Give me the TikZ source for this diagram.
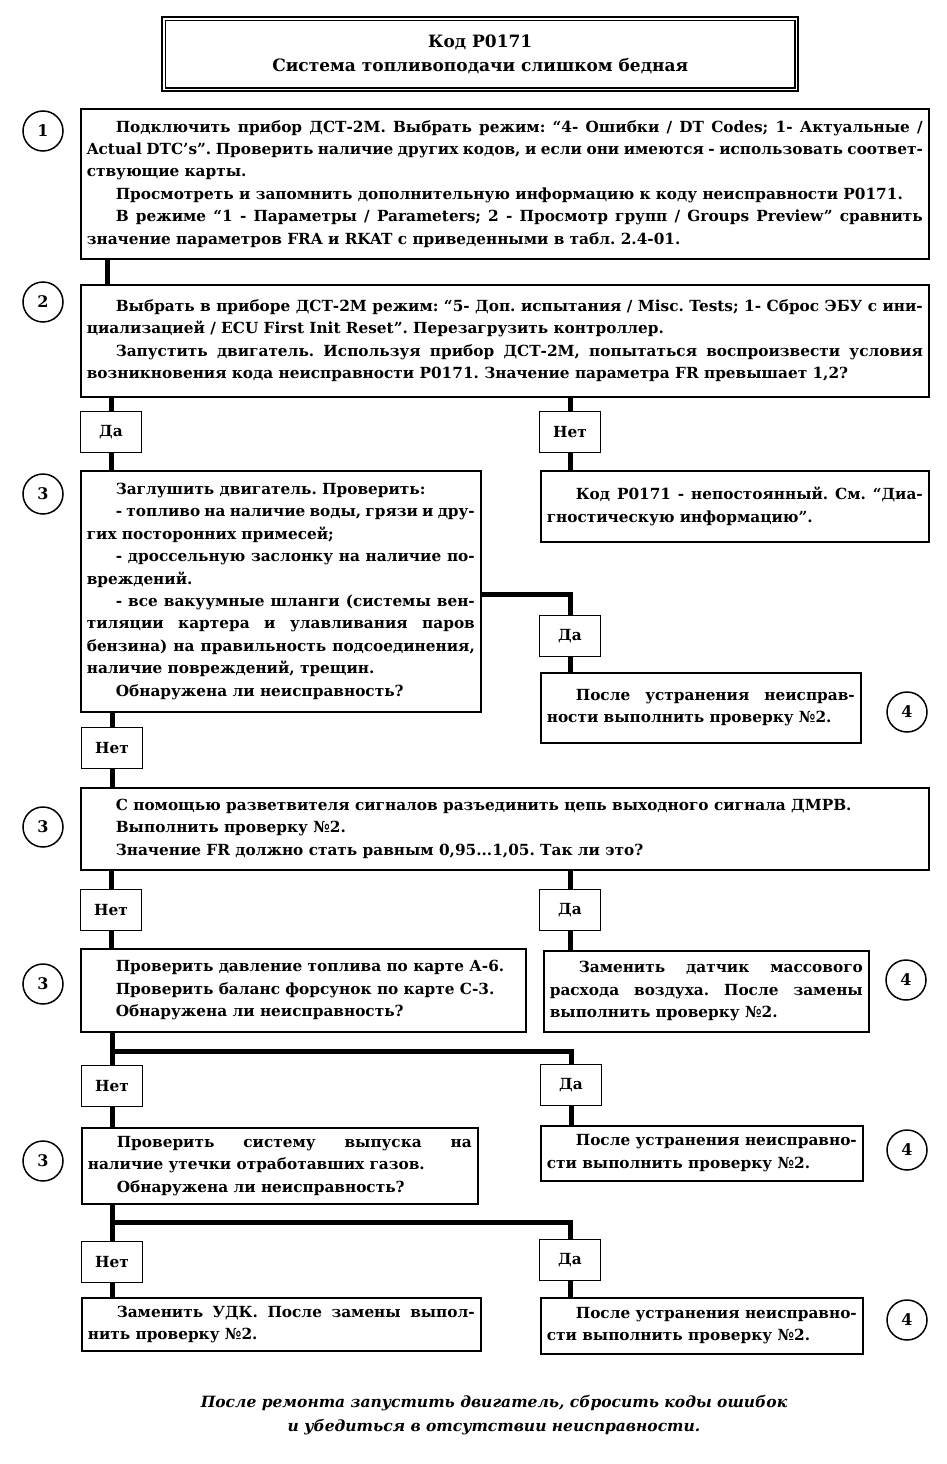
\documentclass[tikz,border=0pt]{standalone}
\usepackage{fontspec}
\setmainfont{DejaVu Serif}
\frenchspacing
\newcommand\bodyfont{\bfseries\fontsize{15.3}{22.4}\selectfont\frenchspacing\hyphenpenalty=10000\exhyphenpenalty=10000\emergencystretch=20pt}
\newcommand\myind{\hspace*{29pt}}
\tikzset{
  box/.style={draw, line width=1.6pt, anchor=north west, inner xsep=6pt, inner ysep=0pt, align=justify, font=\bodyfont},
  lbl/.style={draw, line width=1.6pt, minimum width=61pt, minimum height=41pt, inner sep=0pt, font=\bodyfont},
  num/.style={draw, circle, line width=1.5pt, minimum size=40pt, inner sep=0pt, font=\bfseries\fontsize{16}{18}\selectfont},
  conn/.style={line width=5pt, line join=miter},
}
\begin{document}
\begin{tikzpicture}[x=1pt, y=-1pt]
\useasboundingbox[fill=white] (0,0) rectangle (947,1464);

% title
\node[draw, line width=2.4pt, minimum width=636pt, minimum height=74pt, anchor=north west, inner sep=0pt] (t) at (161,16) {};
\draw[line width=1.2pt] ([shift={(4.5pt,-4.5pt)}]t.north west) rectangle ([shift={(-4.5pt,4.5pt)}]t.south east);
\node[font=\bfseries\fontsize{17}{24}\selectfont, align=center] (tt) at (t.center) {Код P0171\\Система топливоподачи слишком бедная};

% boxes
\node[box, text width=836pt, minimum height=150pt] (b1) at (80,108) {\myind Подключить прибор ДСТ-2М. Выбрать режим: “4- Ошибки / DT Codes; 1- Актуальные /\linebreak Actual DTC's”. Проверить наличие других кодов, и если они имеются - использовать соответ-\linebreak ствующие карты.\par
\myind Просмотреть и запомнить дополнительную информацию к коду неисправности P0171.\par
\myind В режиме “1 - Параметры / Parameters; 2 - Просмотр групп / Groups Preview” сравнить\linebreak значение параметров FRA и RKAT с приведенными в табл. 2.4-01.};

\node[box, text width=836pt, minimum height=112pt] (b2) at (80,284) {\myind Выбрать в приборе ДСТ-2М режим: “5- Доп. испытания / Misc. Tests; 1- Сброс ЭБУ с ини-\linebreak циализацией / ECU First Init Reset”. Перезагрузить контроллер.\par
\myind Запустить двигатель. Используя прибор ДСТ-2М, попытаться воспроизвести условия\linebreak возникновения кода неисправности P0171. Значение параметра FR превышает 1,2?};

\node[box, text width=388pt, minimum height=241pt] (b3a) at (80,470) {\myind Заглушить двигатель. Проверить:\par
\myind - топливо на наличие воды, грязи и дру-\linebreak гих посторонних примесей;\par
\myind - дроссельную заслонку на наличие по-\linebreak вреждений.\par
\myind - все вакуумные шланги (системы вен-\linebreak тиляции картера и улавливания паров\linebreak бензина) на правильность подсоединения,\linebreak наличие повреждений, трещин.\par
\myind Обнаружена ли неисправность?};

\node[box, text width=376pt, minimum height=71pt] (bk) at (540,470) {\myind Код P0171 - непостоянный. См. “Диа-\linebreak гностическую информацию”.};

\node[box, text width=308pt, minimum height=70pt] (b4x) at (540,672) {\myind После устранения неисправ-\linebreak ности выполнить проверку №2.};

\node[box, text width=836pt, minimum height=82pt] (b3b) at (80,787) {\myind С помощью разветвителя сигналов разъединить цепь выходного сигнала ДМРВ.\par
\myind Выполнить проверку №2.\par
\myind Значение FR должно стать равным 0,95...1,05. Так ли это?};

\node[box, text width=433pt, minimum height=83pt] (b3c) at (80,948) {\myind Проверить давление топлива по карте А-6.\par
\myind Проверить баланс форсунок по карте С-3.\par
\myind Обнаружена ли неисправность?};

\node[box, text width=313pt, minimum height=81pt] (b4a) at (543,950) {\myind Заменить датчик массового\linebreak расхода воздуха. После замены\linebreak выполнить проверку №2.};

\node[box, text width=384pt, minimum height=76pt] (b3d) at (81,1127) {\myind Проверить систему выпуска на\linebreak наличие утечки отработавших газов.\par
\myind Обнаружена ли неисправность?};

\node[box, text width=310pt, minimum height=55pt] (b4b) at (540,1125) {\myind После устранения неисправно-\linebreak сти выполнить проверку №2.};

\node[box, text width=387pt, minimum height=53pt] (b5l) at (81,1297) {\myind Заменить УДК. После замены выпол-\linebreak нить проверку №2.};

\node[box, text width=310pt, minimum height=56pt] (b5r) at (540,1297) {\myind После устранения неисправно-\linebreak сти выполнить проверку №2.};

% labels
\node[lbl] (da1) at (111,432) {Да};
\node[lbl] (net1) at (570,432) {Нет};
\node[lbl] (da2) at (570,636) {Да};
\node[lbl] (net2) at (112,748) {Нет};
\node[lbl] (net3) at (111,910) {Нет};
\node[lbl] (da3) at (570,910) {Да};
\node[lbl] (net4) at (112,1086) {Нет};
\node[lbl] (da4) at (571,1085) {Да};
\node[lbl] (net5) at (112,1262) {Нет};
\node[lbl] (da5) at (570,1260) {Да};

% circles
\node[num] (c1) at (43,131) {1};
\node[num] (c2) at (43,302) {2};
\node[num] (c3a) at (43,494) {3};
\node[num] (c3b) at (43,827) {3};
\node[num] (c3c) at (43,984) {3};
\node[num] (c3d) at (43,1161) {3};
\node[num] (c4a) at (907,712) {4};
\node[num] (c4b) at (906,980) {4};
\node[num] (c4c) at (907,1150) {4};
\node[num] (c4d) at (907,1320) {4};

% connectors
\draw[conn] ([xshift=27pt]b1.south west) -- ([xshift=27pt]b2.north west);
\draw[conn] (b2.south -| da1.north) -- (da1.north);
\draw[conn] (da1.south) -- (da1.south |- b3a.north);
\draw[conn] (b2.south -| net1.north) -- (net1.north);
\draw[conn] (net1.south) -- (net1.south |- bk.north);
\draw[conn] ([yshift=-3.5pt]b3a.east) -| (da2.north);
\draw[conn] (da2.south) -- (da2.south |- b4x.north);
\draw[conn] (b3a.south -| net2.north) -- (net2.north);
\draw[conn] (net2.south) -- (net2.south |- b3b.north);
\draw[conn] (b3b.south -| net3.north) -- (net3.north);
\draw[conn] (net3.south) -- (net3.south |- b3c.north);
\draw[conn] (b3b.south -| da3.north) -- (da3.north);
\draw[conn] (da3.south) -- (da3.south |- b4a.north);
\coordinate (j4) at (112,1051);
\draw[conn] (b3c.south -| net4.north) -- (net4.north);
\draw[conn] (net4.north |- j4) -| (da4.north);
\draw[conn] (net4.south) -- (net4.south |- b3d.north);
\draw[conn] (da4.south) -- (da4.south |- b4b.north);
\coordinate (j5) at (112,1222);
\draw[conn] (b3d.south -| net5.north) -- (net5.north);
\draw[conn] (net5.north |- j5) -| (da5.north);
\draw[conn] (net5.south) -- (net5.south |- b5l.north);
\draw[conn] (da5.south) -- (da5.south |- b5r.north);

% footer
\node[font=\bfseries\itshape\fontsize{15.5}{24}\selectfont, align=center] (foot) at (494,1415) {После ремонта запустить двигатель, сбросить коды ошибок\\и убедиться в отсутствии неисправности.};
\end{tikzpicture}
\end{document}
